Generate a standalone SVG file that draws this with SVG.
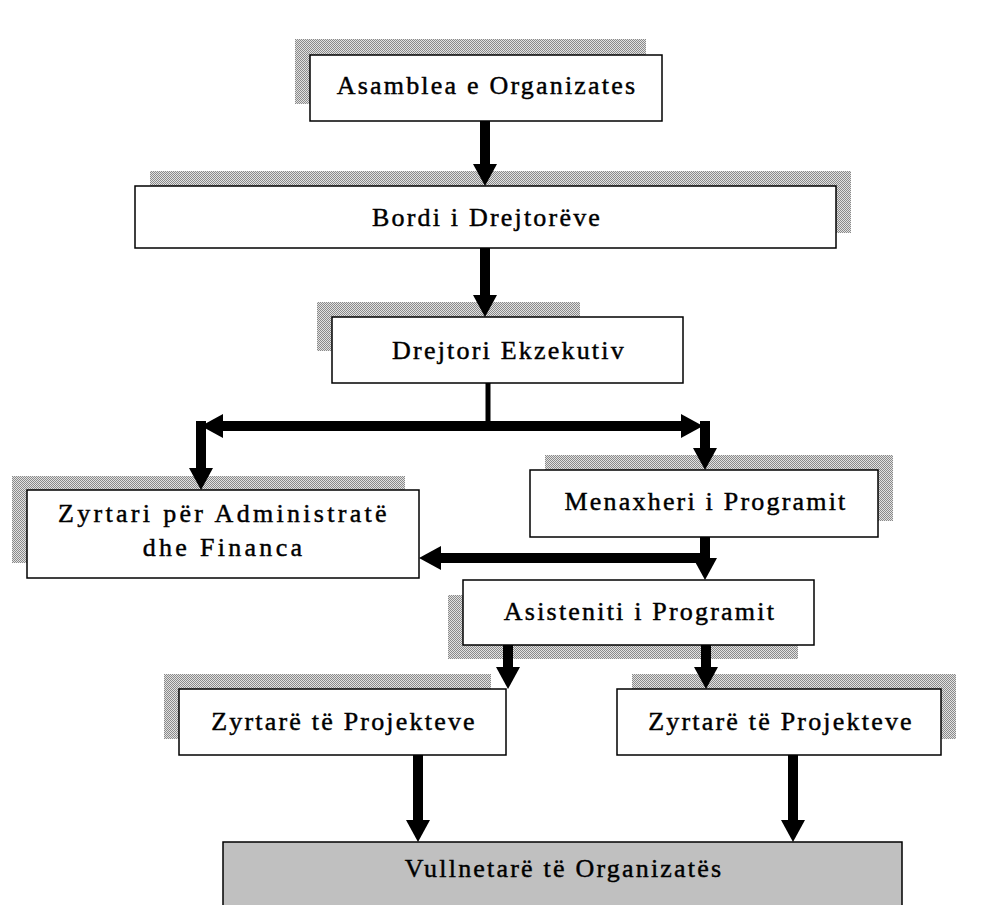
<svg xmlns="http://www.w3.org/2000/svg" width="1003" height="905" viewBox="0 0 1003 905">
<defs>
<pattern id="dots" width="2" height="2" patternUnits="userSpaceOnUse">
<rect width="2" height="2" fill="#e2e2e2"/>
<rect width="1" height="1" fill="#8a8a8a"/>
<rect x="1" y="1" width="1" height="1" fill="#8a8a8a"/>
</pattern>
<marker id="ah" markerUnits="userSpaceOnUse" markerWidth="24" markerHeight="24" refX="10" refY="12" orient="auto-start-reverse">
<path d="M0,0 L22,12 L0,24 z" fill="#000"/>
</marker>
</defs>
<style>
.box{fill:#fff;stroke:#000;stroke-width:1.5}
.grey{fill:#c0c0c0;stroke:#000;stroke-width:1.5}
.sh{fill:url(#dots)}
.t{font-family:"Liberation Serif","Times New Roman",serif;font-size:26px;letter-spacing:2.2px;text-anchor:middle;fill:#000;stroke:#000;stroke-width:0.45}
.w{letter-spacing:3.3px}
.c{stroke:#000;stroke-width:10;fill:none}
.thin{stroke:#000;stroke-width:5;fill:none}
</style>
<rect width="1003" height="905" fill="#fff"/>

<g id="n-asamblea">
<rect class="sh" x="295" y="39" width="351" height="65"/>
<rect class="box" x="310" y="55" width="352" height="66"/>
<text class="t" x="487" y="94">Asamblea e Organizates</text>
</g>
<g id="n-bordi">
<rect class="sh" x="150" y="171" width="701" height="62"/>
<rect class="box" x="135" y="186" width="701" height="62"/>
<text class="t" x="487" y="226">Bordi i Drejtorëve</text>
</g>
<g id="n-drejtori">
<rect class="sh" x="317" y="302" width="263" height="49"/>
<rect class="box" x="332" y="317" width="351" height="66"/>
<text class="t" x="509" y="359">Drejtori Ekzekutiv</text>
</g>
<g id="n-zyrtari-admin">
<rect class="sh" x="12" y="476" width="393" height="87"/>
<rect class="box" x="27" y="490" width="392" height="88"/>
<text class="t w" x="224" y="522">Zyrtari për Administratë</text>
<text class="t w" x="224" y="556">dhe Financa</text>
</g>
<g id="n-menaxheri">
<rect class="sh" x="545" y="455" width="348" height="66"/>
<rect class="box" x="530" y="470" width="348" height="67"/>
<text class="t" x="706" y="510">Menaxheri i Programit</text>
</g>
<g id="n-asisteniti">
<rect class="sh" x="448" y="595" width="350" height="64"/>
<rect class="box" x="463" y="580" width="351" height="65"/>
<text class="t" x="640" y="620">Asisteniti i Programit</text>
</g>
<g id="n-zyrtare-1">
<rect class="sh" x="164" y="674" width="327" height="65"/>
<rect class="box" x="179" y="689" width="327" height="66"/>
<text class="t" x="344" y="730">Zyrtarë të Projekteve</text>
</g>
<g id="n-zyrtare-2">
<rect class="sh" x="632" y="674" width="324" height="65"/>
<rect class="box" x="617" y="689" width="324" height="66"/>
<text class="t" x="781" y="730">Zyrtarë të Projekteve</text>
</g>
<g id="n-vullnetare">
<rect class="grey" x="223" y="842" width="679" height="70"/>
<text class="t" x="564" y="877">Vullnetarë të Organizatës</text>
</g>

<g id="connectors">
<line class="c" x1="485" y1="121" x2="485" y2="174" marker-end="url(#ah)"/>
<line class="c" x1="485" y1="248" x2="485" y2="305" marker-end="url(#ah)"/>
<line class="thin" x1="488" y1="383" x2="488" y2="426"/>
<line class="c" x1="213" y1="426" x2="691" y2="426" marker-start="url(#ah)" marker-end="url(#ah)"/>
<line class="c" x1="201" y1="421" x2="201" y2="478" marker-end="url(#ah)"/>
<line class="c" x1="705" y1="421" x2="705" y2="458" marker-end="url(#ah)"/>
<line class="c" x1="705" y1="537" x2="705" y2="568" marker-end="url(#ah)"/>
<line class="c" x1="710" y1="558" x2="431" y2="558" marker-end="url(#ah)"/>
<line class="c" x1="508" y1="645" x2="508" y2="677" marker-end="url(#ah)"/>
<line class="c" x1="706" y1="645" x2="706" y2="677" marker-end="url(#ah)"/>
<line class="c" x1="418" y1="755" x2="418" y2="830" marker-end="url(#ah)"/>
<line class="c" x1="793" y1="755" x2="793" y2="830" marker-end="url(#ah)"/>
</g>
</svg>
